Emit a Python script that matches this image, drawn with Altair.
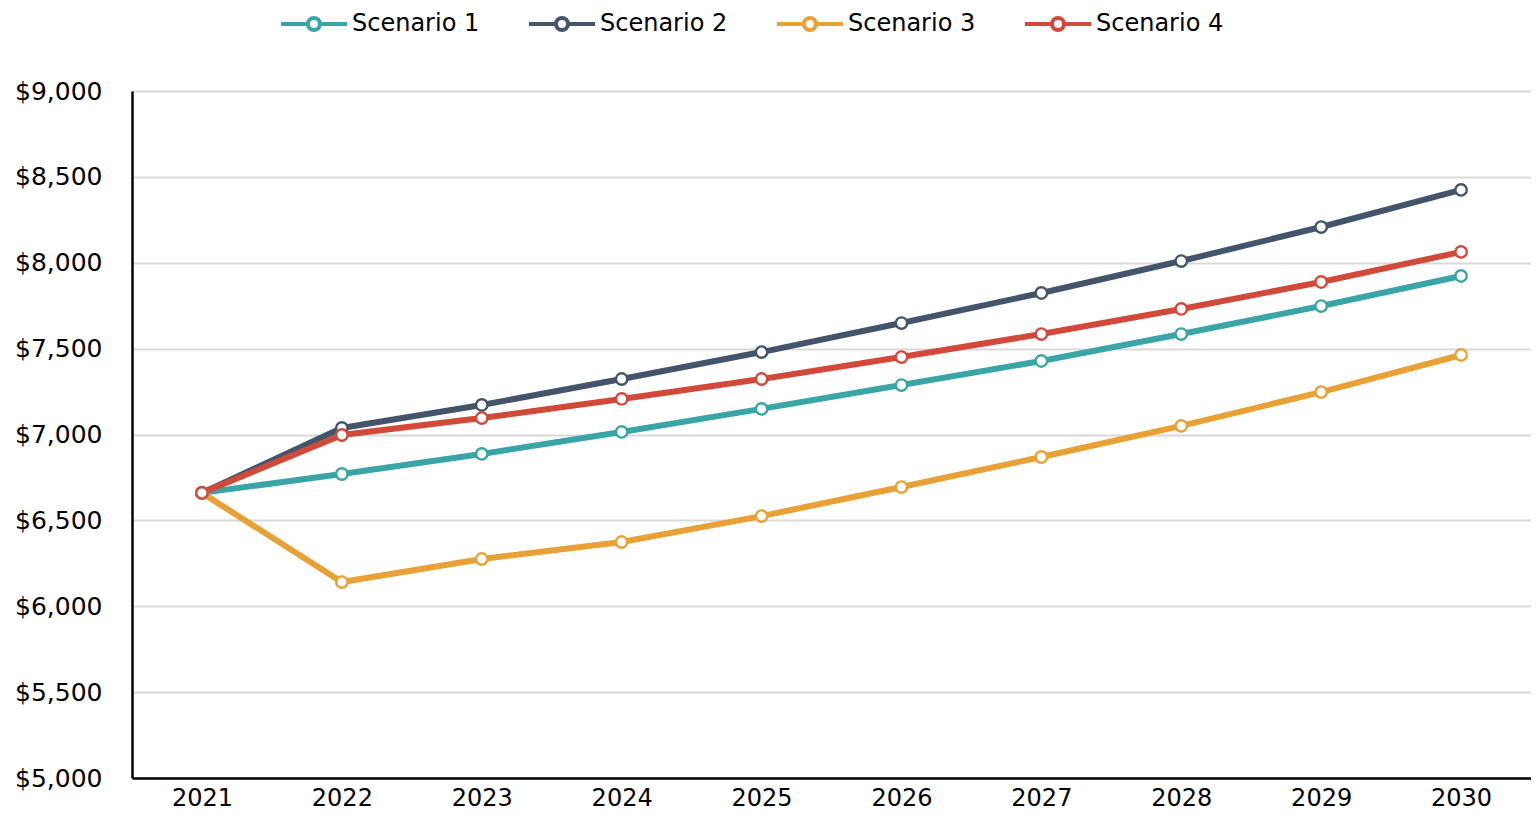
import altair as alt
import pandas as pd

years = [2021, 2022, 2023, 2024, 2025, 2026, 2027, 2028, 2029, 2030]
scenario_names = ["Scenario 1", "Scenario 2", "Scenario 3", "Scenario 4"]
s1 = [6660, 6770, 6887, 7015, 7149, 7288, 7428, 7585, 7748, 7923]
s2 = [6660, 7038, 7172, 7323, 7480, 7649, 7824, 8010, 8208, 8424]
s3 = [6660, 6141, 6275, 6374, 6525, 6694, 6869, 7050, 7247, 7463]
s4 = [6660, 6997, 7096, 7207, 7323, 7451, 7585, 7731, 7888, 8063]
colors = ["#3AA5A6", "#44546A", "#E9A035", "#D2493A"]
y_ticks = [5000, 5500, 6000, 6500, 7000, 7500, 8000, 8500, 9000]

rows = []
for name, vals in zip(scenario_names, [s1, s2, s3, s4]):
    for yr, v in zip(years, vals):
        rows.append({"Year": str(yr), "Value": v, "Scenario": name,
                     "order": scenario_names.index(name)})
df = pd.DataFrame(rows)

# legend symbol: a line with an open circle in the middle
sym = ("M-3.3,0H-0.6M0.6,0H3.3M0.6,0A0.6,0.6,0,1,1,-0.6,0"
       "A0.6,0.6,0,1,1,0.6,0Z")

scale = alt.Scale(domain=scenario_names, range=colors)
legend = alt.Legend(
    title=None, orient="none", direction="horizontal",
    legendX=170, legendY=-79,
    symbolType=sym, symbolSize=400, symbolStrokeWidth=4,
    symbolFillColor="white", symbolOpacity=1,
    labelFont="DejaVu Sans", labelFontSize=24, labelColor="#000000",
    labelOffset=26, columnPadding=41,
)

x = alt.X("Year:O", scale=alt.Scale(type="point", padding=0.5),
          axis=alt.Axis(title=None, labelAngle=0, ticks=False,
                        domainColor="#000000", domainWidth=2.5,
                        labelFont="DejaVu Sans", labelFontSize=24,
                        labelColor="#000000", labelPadding=8, grid=False))
y = alt.Y("Value:Q", scale=alt.Scale(domain=[5000, 9000], nice=False, zero=False),
          axis=alt.Axis(title=None, values=y_ticks, format="$,.0f", ticks=False,
                        domainColor="#000000", domainWidth=2.5,
                        labelFont="DejaVu Sans", labelFontSize=25,
                        labelColor="#000000", labelPadding=30,
                        gridColor="#D9D9D9", gridWidth=2))

base = alt.Chart(df).encode(x=x, y=y)

lines = base.mark_line(strokeWidth=6).encode(
    stroke=alt.Stroke("Scenario:N", scale=scale, legend=legend),
    order=alt.Order("order:Q"),
)
points = base.mark_point(filled=False, fill="white", fillOpacity=1, opacity=1,
                         size=130, strokeWidth=2.4, shape="circle").encode(
    stroke=alt.Stroke("Scenario:N", scale=scale, legend=legend),
    order=alt.Order("order:Q"),
)

chart = alt.layer(lines, points).properties(
    width=1399, height=687, autosize="none",
    padding={"left": 124, "top": 83, "right": 0, "bottom": 34},
).configure_view(stroke=None).configure(background="white")

chart.save("out.html", embed_options={"renderer": "svg", "actions": False})
